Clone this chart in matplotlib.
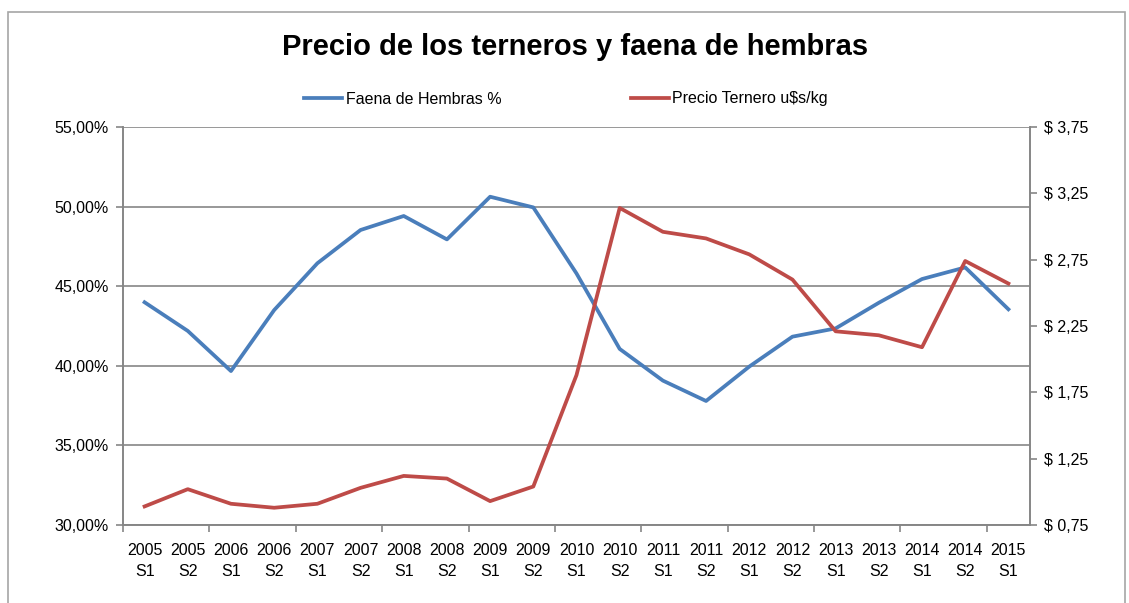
import matplotlib

matplotlib.use("Agg")
import matplotlib.pyplot as plt
from matplotlib.patches import Rectangle
from matplotlib.ticker import FuncFormatter, FixedLocator

plt.rcParams["font.family"] = ["Liberation Sans Narrow", "Liberation Sans", "DejaVu Sans"]

# --- data -----------------------------------------------------------------
periods = [
    "2005 S1", "2005 S2", "2006 S1", "2006 S2", "2007 S1", "2007 S2",
    "2008 S1", "2008 S2", "2009 S1", "2009 S2", "2010 S1", "2010 S2",
    "2011 S1", "2011 S2", "2012 S1", "2012 S2", "2013 S1", "2013 S2",
    "2014 S1", "2014 S2", "2015 S1",
]
faena_hembras = [
    43.99, 42.19, 39.67, 43.50, 46.44, 48.53, 49.41, 47.94, 50.62, 49.95,
    45.80, 41.06, 39.07, 37.79, 39.95, 41.83, 42.35, 43.96, 45.45, 46.18, 43.55,
]
precio_ternero = [
    0.89, 1.02, 0.91, 0.88, 0.91, 1.03, 1.12, 1.10, 0.93, 1.04,
    1.88, 3.14, 2.96, 2.91, 2.79, 2.60, 2.21, 2.18, 2.09, 2.74, 2.57,
]
left_ticks = [30, 35, 40, 45, 50, 55]
right_ticks = [0.75, 1.25, 1.75, 2.25, 2.75, 3.25, 3.75]

C_BLUE = "#4A7EBB"
C_RED = "#BE4B48"
C_AXIS = "#868686"

fig = plt.figure(figsize=(11.29, 6.03), dpi=100)
# outer chart border (Excel chart area)
fig.patches.append(Rectangle((8 / 1129, -0.1), 1117 / 1129, 1.1 - 12 / 603,
                             transform=fig.transFigure, fill=False,
                             edgecolor="#A6A6A6", lw=1.2))

ax = fig.add_axes([123 / 1129, 1 - 525 / 603, 907 / 1129, 398 / 603])
ax2 = ax.twinx()

x = list(range(len(periods)))
l1, = ax.plot(x, faena_hembras, color=C_BLUE, lw=2.7, solid_joinstyle="round",
              label="Faena de Hembras %")
l2, = ax2.plot(x, precio_ternero, color=C_RED, lw=2.7, solid_joinstyle="round",
               label="Precio Ternero u$s/kg")

ax.set_xlim(-0.5, len(periods) - 0.5)
ax.set_ylim(left_ticks[0], left_ticks[-1])
ax2.set_ylim(right_ticks[0], right_ticks[-1])
ax.set_yticks(left_ticks)
ax2.set_yticks(right_ticks)

ax.yaxis.set_major_formatter(FuncFormatter(lambda v, _: f"{v:.2f}%".replace(".", ",")))
ax2.yaxis.set_major_formatter(FuncFormatter(lambda v, _: f"$ {v:.2f}".replace(".", ",")))

# category boundaries every two periods as tick marks, labels at centres
ax.xaxis.set_major_locator(FixedLocator([i - 0.5 for i in range(0, len(periods), 2)]))
ax.xaxis.set_major_formatter(FuncFormatter(lambda v, _: ""))
ax.xaxis.set_minor_locator(FixedLocator(x))
ax.set_xticklabels([p.replace(" ", "\n") for p in periods], minor=True)
ax.tick_params(axis="x", which="minor", length=0, pad=13, labelsize=11.5)
ax.tick_params(axis="x", which="major", length=5, width=1.2, color=C_AXIS)
ax.tick_params(axis="y", length=5, width=1.2, color=C_AXIS, labelsize=11.5, pad=5)
ax2.tick_params(axis="y", length=5, width=1.2, color=C_AXIS, labelsize=11.5, pad=5)
for lab in ax.get_xticklabels(minor=True):
    lab.set_linespacing(1.5)

ax.grid(True, axis="y", color=C_AXIS, lw=1.2)
ax.set_axisbelow(True)
for a in (ax, ax2):
    a.spines["top"].set_visible(False)
    for s in ("left", "right", "bottom"):
        a.spines[s].set_color(C_AXIS)
        a.spines[s].set_linewidth(1.2)

fig.text(575 / 1129, 1 - 47 / 603, "Precio de los terneros y faena de hembras",
         ha="center", va="center", fontsize=21, fontweight="bold")
fig.legend(handles=[l1, l2], loc="center", bbox_to_anchor=(566 / 1129, 1 - 99 / 603),
           ncol=2, frameon=False, fontsize=11.5, handlelength=2.4, handletextpad=0.2,
           columnspacing=8.1)

fig.savefig("out.png", dpi=100)
